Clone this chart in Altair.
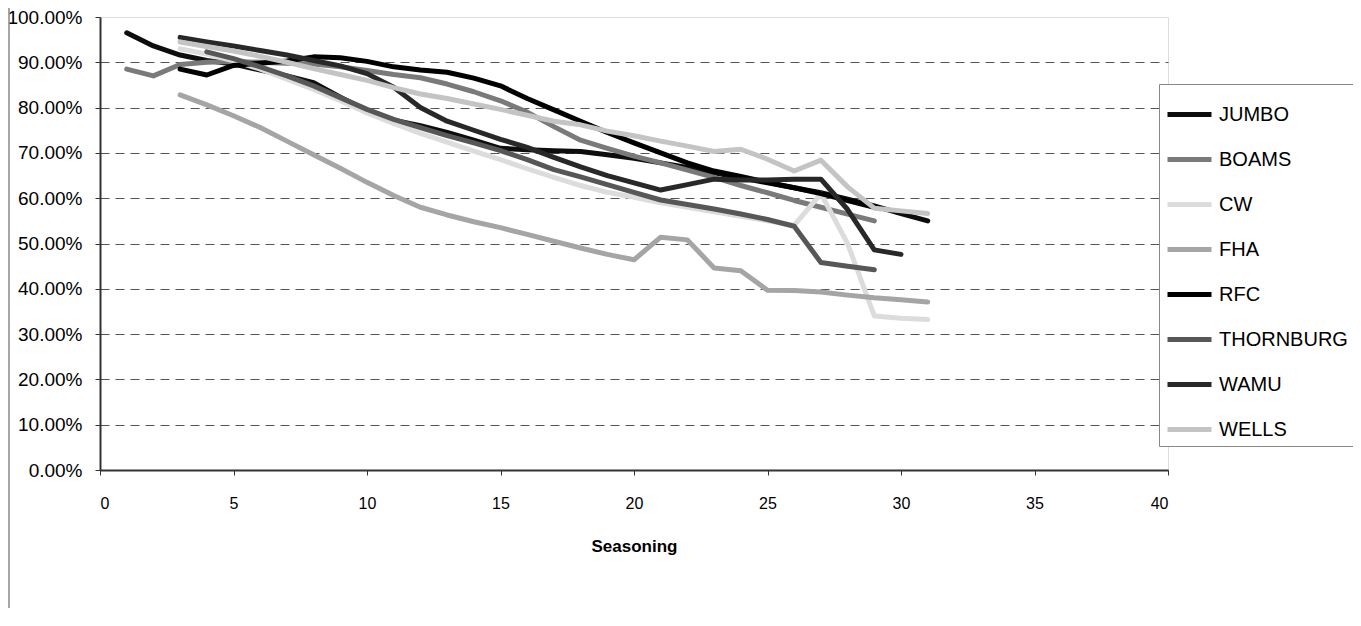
import altair as alt
import pandas as pd

seasoning = list(range(1, 32))
series_names = ["JUMBO", "BOAMS", "CW", "FHA", "RFC", "THORNBURG", "WAMU", "WELLS"]
series_colors = ["#0d0d0d", "#7a7a7a", "#dcdcdc", "#a5a5a5", "#000000", "#575757", "#282828", "#c4c4c4"]

N = None
jumbo = [96.5, 93.6, 91.6, 90.4, 89.6, 88.3, 87.0, 85.5, 82.3, 79.3, 77.2, 76.0, 74.5, 72.8, 71.0, 70.7,
         70.5, 70.3, 69.6, 68.8, 67.8, 66.8, 65.6, 64.5, 63.4, 62.3, 61.2, 59.8, 58.3, 56.6, 55.0]
boams = [88.5, 87.0, 89.5, 90.0, 90.2, 90.0, 89.8, 89.6, 89.0, 88.2, 87.3, 86.6, 85.2, 83.5, 81.5, 79.0,
         75.8, 72.8, 71.0, 69.3, 67.8, 66.2, 64.6, 62.8, 61.2, 59.5, 58.0, 56.5, 55.0, N, N]
cw = [N, N, 93.0, 91.8, 90.3, 88.5, 86.3, 84.0, 81.5, 78.8, 76.5, 74.3, 72.4, 70.4, 68.5, 66.5,
      64.6, 62.8, 61.3, 60.2, 59.0, 58.0, 57.0, 56.0, 55.0, 54.0, 61.0, 50.0, 34.0, 33.5, 33.2]
fha = [N, N, 82.8, 80.6, 78.2, 75.6, 72.6, 69.6, 66.6, 63.5, 60.6, 58.0, 56.3, 54.8, 53.5, 52.0,
       50.5, 49.0, 47.6, 46.4, 51.4, 50.8, 44.6, 44.0, 39.7, 39.6, 39.3, 38.6, 38.0, 37.6, 37.1]
rfc = [N, N, 88.5, 87.2, 89.3, 89.8, 90.3, 91.2, 91.0, 90.2, 89.0, 88.3, 87.8, 86.5, 84.8, 82.0,
       79.5, 77.0, 74.5, 72.2, 70.0, 67.8, 66.0, 64.8, 63.5, 62.3, 61.0, 59.5, 58.0, N, N]
thornburg = [N, N, N, 92.3, 90.8, 89.0, 87.0, 84.8, 82.2, 79.6, 77.4, 75.6, 73.8, 72.2, 70.5, 68.5,
             66.3, 64.7, 63.0, 61.3, 59.6, 58.6, 57.6, 56.5, 55.3, 53.8, 45.8, 45.0, 44.2, N, N]
wamu = [N, N, 95.5, 94.5, 93.6, 92.6, 91.6, 90.4, 89.2, 87.5, 84.5, 80.0, 77.0, 75.0, 73.0, 71.2,
        69.0, 66.9, 65.0, 63.4, 61.8, 63.0, 64.2, 64.0, 64.0, 64.2, 64.2, 57.5, 48.6, 47.6, N]
wells = [N, N, 94.5, 93.5, 92.5, 91.3, 90.0, 88.6, 87.3, 86.0, 84.4, 83.0, 82.0, 80.8, 79.6, 78.3,
         77.0, 76.2, 74.8, 73.8, 72.6, 71.5, 70.3, 70.8, 68.6, 66.0, 68.4, 62.5, 57.8, 57.2, 56.6]

x_ticks = [0, 5, 10, 15, 20, 25, 30, 35, 40]
y_ticks = [i / 10 for i in range(11)]

all_series = [jumbo, boams, cw, fha, rfc, thornburg, wamu, wells]
rows = []
for order, (name, vals) in enumerate(zip(series_names, all_series)):
    for s, v in zip(seasoning, vals):
        if v is not None:
            rows.append({"Seasoning": s, "value": v / 100.0, "series": name, "ord": order})
df = pd.DataFrame(rows)

FONT = "Liberation Sans"

lines = alt.Chart(df).mark_line(strokeWidth=5, strokeJoin="round", strokeCap="round").encode(
    x=alt.X("Seasoning:Q",
            scale=alt.Scale(domain=[0, 40], nice=False, zero=False),
            axis=alt.Axis(values=x_ticks, grid=False, tickSize=5, tickColor="#333333",
                          domainColor="#333333", domainWidth=2, labelFontSize=16,
                          labelPadding=20, labelColor="#000000", labelFont=FONT,
                          title="Seasoning", titleFont=FONT, titleFontSize=17,
                          titleFontWeight="bold", titlePadding=27, titleColor="#000000")),
    y=alt.Y("value:Q",
            scale=alt.Scale(domain=[0, 1], nice=False),
            axis=alt.Axis(values=y_ticks, format=".2%", grid=True, gridDash=[9, 6],
                          gridColor={"condition": {"test": "datum.value >= 1", "value": "transparent"},
                                     "value": "#555555"},
                          gridWidth=1, tickSize=5, tickColor="#333333", domainColor="#333333",
                          domainWidth=2, labelFontSize=19, labelPadding=13, labelFont=FONT,
                          labelColor="#000000", title=None)),
    color=alt.Color("series:N",
                    scale=alt.Scale(domain=series_names, range=series_colors),
                    legend=alt.Legend(title=None, orient="none", legendX=1059, legendY=67,
                                      symbolType="stroke", symbolSize=1936, symbolStrokeWidth=5,
                                      labelFontSize=20, labelFont=FONT, labelColor="#000000",
                                      labelOffset=5, rowPadding=10, padding=6,
                                      strokeColor="#888888", fillColor="#ffffff",
                                      labelLimit=300)),
    detail="ord:O",
)

border = alt.Chart(pd.DataFrame({"b": [0]})).mark_rule(color="#888888", strokeWidth=1.5).encode(
    x=alt.value(-91), y=alt.value(-9), y2=alt.value(600)
)

chart = alt.layer(border, lines).properties(
    width=1068, height=453,
    autosize=alt.AutoSizeParams(type="none"),
    padding={"left": 92, "top": 9, "right": 185, "bottom": 138},
).configure_view(stroke="#999999", strokeWidth=2).configure(background="#ffffff")

chart.save("out.html", embed_options={"renderer": "svg", "actions": False})
